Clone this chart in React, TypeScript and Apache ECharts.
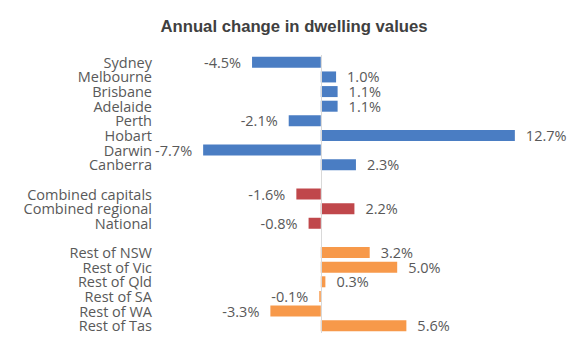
import React, { useEffect, useRef } from "react";
import * as echarts from "echarts";

const categories = [
  "Sydney", "Melbourne", "Brisbane", "Adelaide", "Perth", "Hobart", "Darwin", "Canberra",
  "",
  "Combined capitals", "Combined regional", "National",
  " ",
  "Rest of NSW", "Rest of Vic", "Rest of Qld", "Rest of SA", "Rest of WA", "Rest of Tas",
];
const capitalValues = [-4.5, 1.0, 1.1, 1.1, -2.1, 12.7, -7.7, 2.3];
const combinedValues = [-1.6, 2.2, -0.8];
const regionalValues = [3.2, 5.0, 0.3, -0.1, -3.3, 5.6];
const xTicks = { min: -10, max: 15 };

const BLUE = "#4A7DC3";
const RED = "#C0474B";
const ORANGE = "#F7994A";
const FONT = "Open Sans";

export default function App() {
  const ref = useRef<HTMLDivElement>(null);
  useEffect(() => {
    document.body.style.margin = "0";
    const chart = echarts.init(ref.current!, null, { renderer: "svg" });
    const mk = (v: number | null, color: string) =>
      v === null
        ? { value: null }
        : {
            value: v,
            itemStyle: { color },
            label: { position: v < 0 ? "left" : "right" },
          };
    const data = [
      ...capitalValues.map((v) => mk(v, BLUE)),
      mk(null, BLUE),
      ...combinedValues.map((v) => mk(v, RED)),
      mk(null, RED),
      ...regionalValues.map((v) => mk(v, ORANGE)),
    ];
    chart.setOption({
      animation: false,
      graphic: [
        {
          type: "text",
          x: 294,
          y: 26,
          style: {
            text: "Annual change in dwelling values",
            fontFamily: "Liberation Sans",
            fontWeight: "bold",
            fontSize: 16.7,
            fill: "#404040",
            textAlign: "center",
            textVerticalAlign: "middle",
          },
        },
      ],
      grid: { left: 168, right: 30, top: 55, bottom: 19, containLabel: false },
      xAxis: {
        type: "value",
        min: xTicks.min,
        max: xTicks.max,
        show: false,
      },
      yAxis: {
        type: "category",
        data: categories,
        inverse: true,
        axisLine: { show: false, onZero: false },
        axisTick: { show: false },
        splitLine: { show: false },
        axisLabel: {
          interval: 0,
          margin: 16,
          color: "#595959",
          fontFamily: FONT,
          fontSize: 14.5,
          lineHeight: 13,
        },
      },
      series: [
        {
          type: "bar",
          data,
          barWidth: 11,
          label: {
            show: true,
            distance: 11,
            color: "#595959",
            fontFamily: FONT,
            fontSize: 14.5,
            lineHeight: 13,
            formatter: (p: any) => Number(p.value).toFixed(1) + "%",
          },
          markLine: {
            silent: true,
            symbol: "none",
            label: { show: false },
            lineStyle: { color: "#D9D9D9", type: "solid", width: 1 },
            data: [{ xAxis: 0 }],
          },
        },
      ],
    });
    return () => chart.dispose();
  }, []);
  return <div ref={ref} style={{ width: 580, height: 352 }} />;
}
